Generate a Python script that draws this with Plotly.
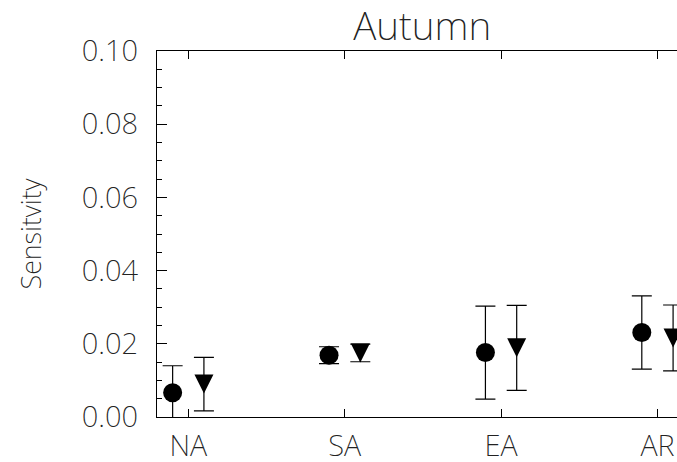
import plotly.graph_objects as go

# Regions along the x axis
regions = ["NA", "SA", "EA", "AR"]

# Sensitivity estimates (filled circles) and their 1-sigma spread
sens_circle = [0.0066, 0.0169, 0.0176, 0.0231]
err_circle = [0.0074, 0.0023, 0.0127, 0.0100]

# Sensitivity estimates (filled down-triangles) and their spread
sens_triangle = [0.0090, 0.0175, 0.0189, 0.0216]
err_triangle = [0.0073, 0.0024, 0.0116, 0.0090]

y_ticks = [0.00, 0.02, 0.04, 0.06, 0.08, 0.10]

# horizontal shift of each series around its category
shift = 0.1
idx = list(range(len(regions)))

FONT = "Noto Sans"
W = 200
TXT = "#222222"
fig = go.Figure()

fig.add_trace(go.Scatter(
    x=[i - shift for i in idx], y=sens_circle,
    mode="markers",
    marker=dict(symbol="circle", size=19, color="black", line=dict(width=0)),
    error_y=dict(type="data", array=err_circle, symmetric=True,
                 width=10, thickness=1.2, color="black"),
    showlegend=False,
))

fig.add_trace(go.Scatter(
    x=[i + shift for i in idx], y=sens_triangle,
    mode="markers",
    marker=dict(symbol="arrow-down", size=19, standoff=9.5,
                color="black", line=dict(width=0)),
    error_y=dict(type="data", array=err_triangle, symmetric=True,
                 width=10, thickness=1.2, color="black"),
    showlegend=False,
))

fig.update_layout(
    width=677, height=462,
    margin=dict(l=157, r=0, t=51, b=45, pad=0, autoexpand=False),
    paper_bgcolor="white", plot_bgcolor="white",
    font=dict(family=FONT, weight=W, color=TXT),
    title=dict(text="Autumn", x=0.51, xref="paper", xanchor="center",
               y=1, yref="paper", yanchor="bottom", pad=dict(b=11),
               font=dict(family=FONT, weight=W, size=39, color=TXT)),
)

fig.update_xaxes(
    range=[-0.2, 3.125], automargin=False,
    tickmode="array", tickvals=idx, ticktext=regions,
    ticks="inside", ticklen=8, tickwidth=1, tickcolor="black",
    showline=True, linecolor="black", linewidth=1.3,
    mirror="ticks", showgrid=False, zeroline=False,
    tickfont=dict(family=FONT, weight=W, size=29, color=TXT),
    ticklabelstandoff=3,
)

fig.update_yaxes(
    range=[0, 0.10], automargin=False,
    tickmode="array", tickvals=y_ticks, tickformat=".2f",
    ticks="inside", ticklen=10, tickwidth=1, tickcolor="black",
    minor=dict(dtick=0.005, ticks="inside", ticklen=5, tickwidth=1,
               tickcolor="black", showgrid=False),
    showline=True, linecolor="black", linewidth=1.3,
    mirror=False, showgrid=False, zeroline=False,
    tickfont=dict(family=FONT, weight=W, size=29, color=TXT),
    ticklabelstandoff=12,
    title=dict(text="Sensitvity", standoff=32,
               font=dict(family=FONT, weight=W, size=27, color=TXT)),
)

fig.write_html("out.html")
